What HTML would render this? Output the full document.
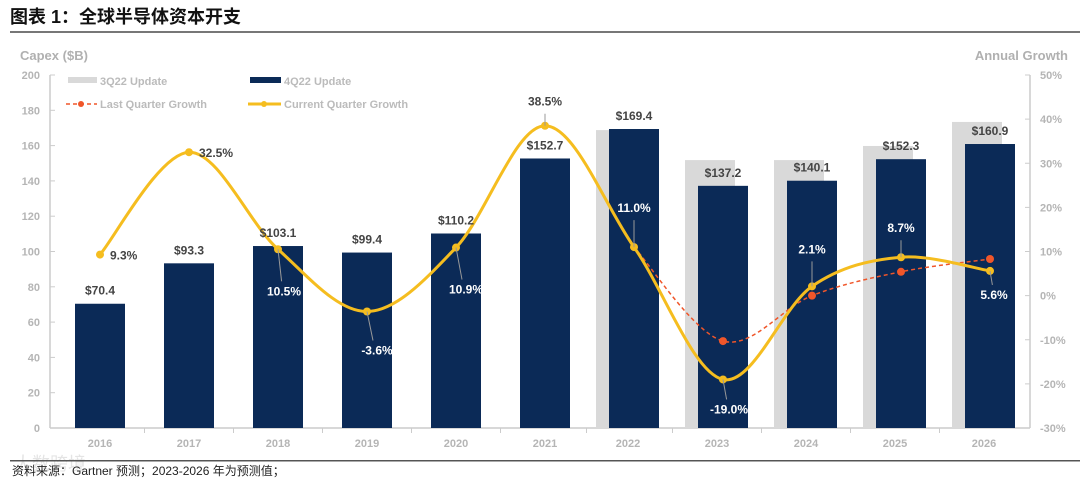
<!DOCTYPE html>
<html><head><meta charset="utf-8">
<style>
body{margin:0;background:#fff;width:1080px;height:482px;overflow:hidden;font-family:"Liberation Sans","Noto Sans CJK SC",sans-serif;}
svg text{font-family:"Liberation Sans","Noto Sans CJK SC",sans-serif;}
</style></head><body>
<svg id="chart" width="1080" height="482" xmlns="http://www.w3.org/2000/svg">
<text x="10" y="23" font-size="18" font-weight="bold" fill="#111">图表 1：全球半导体资本开支</text>
<rect x="10" y="31" width="1070" height="2" fill="#777"/>
<text x="20" y="60" font-size="13" font-weight="bold" fill="#b0b0b0">Capex ($B)</text>
<text x="1068" y="60" font-size="13" font-weight="bold" fill="#b0b0b0" text-anchor="end">Annual Growth</text>
<g id="legend">
<rect x="68" y="77" width="29" height="6" fill="#d9d9d9"/>
<text x="100" y="85" font-size="11" font-weight="bold" fill="#bbb">3Q22 Update</text>
<rect x="250" y="77" width="31" height="6" fill="#0b2a57"/>
<text x="284" y="85" font-size="11" font-weight="bold" fill="#bbb">4Q22 Update</text>
<line x1="66" y1="104" x2="97" y2="104" stroke="#f0562a" stroke-width="1.5" stroke-dasharray="4,3"/>
<circle cx="81" cy="104" r="3" fill="#f0562a"/>
<text x="100" y="108" font-size="11" font-weight="bold" fill="#bbb">Last Quarter Growth</text>
<line x1="248" y1="104" x2="281" y2="104" stroke="#f5bd1f" stroke-width="3"/>
<circle cx="264" cy="104" r="3" fill="#f5bd1f"/>
<text x="284" y="108" font-size="11" font-weight="bold" fill="#bbb">Current Quarter Growth</text>
</g>
<g id="axes"></g>
<g id="bars"></g>
<g id="lines"></g>
<g id="labels"></g>
<text x="14" y="470" font-size="18" fill="#e4e4e4">大数跨境</text>
<rect x="10" y="460" width="1070" height="1.5" fill="#555"/>
<text x="12" y="475" font-size="12" fill="#222">资料来源：Gartner 预测；2023-2026 年为预测值；</text>
</svg>
<script>
const years=['2016','2017','2018','2019','2020','2021','2022','2023','2024','2025','2026'];
const capex4Q=[70.4,93.3,103.1,99.4,110.2,152.7,169.4,137.2,140.1,152.3,160.9];
const capex3Q=[70.4,93.3,103.1,99.4,110.2,152.7,168.8,151.8,151.8,159.8,173.4];
const growthCur=[9.3,32.5,10.5,-3.6,10.9,38.5,11.0,-19.0,2.1,8.7,5.6];
const growthLastIdx=[6,7,8,9,10];
const growthLast=[11.0,-10.3,0.0,5.4,8.3];
const leftTicks=[0,20,40,60,80,100,120,140,160,180,200];
const rightTicks=[-30,-20,-10,0,10,20,30,40,50];
const NS='http://www.w3.org/2000/svg';
const X0=50,X1=1030,Y0=428,Y1=75;
const xC=i=>100+89*i;
const xCat=i=>xC(i)-(i>=6?6:0);
const yL=v=>Y0-(v/200)*(Y0-Y1);
const yR=v=>Y0-((v+30)/80)*(Y0-Y1);
function el(t,a,p){const e=document.createElementNS(NS,t);for(const k in a)e.setAttribute(k,a[k]);p.appendChild(e);return e;}
const axes=document.getElementById('axes'),bars=document.getElementById('bars'),lines=document.getElementById('lines'),labels=document.getElementById('labels');
let e;
e=el('line',{x1:X0,y1:Y1,x2:X0,y2:Y0,stroke:'#ccc','stroke-width':1.5},axes);

e=el('line',{x1:X1,y1:Y1,x2:X1,y2:Y0,stroke:'#ccc','stroke-width':1.5},axes);

e=el('line',{x1:X0,y1:Y0,x2:X1,y2:Y0,stroke:'#ccc','stroke-width':1.5},axes);

leftTicks.forEach(v=>{const y=yL(v);el('line',{x1:X0,y1:y,x2:X0+5,y2:y,stroke:'#ccc'},axes);
 e=el('text',{x:X0-10,y:y+4,'font-size':11,'font-weight':'bold',fill:'#b5b5b5','text-anchor':'end'},axes);e.textContent=v;
 });
rightTicks.forEach(v=>{const y=yR(v);el('line',{x1:X1-5,y1:y,x2:X1,y2:y,stroke:'#ccc'},axes);
 e=el('text',{x:X1+10,y:y+4,'font-size':11,'font-weight':'bold',fill:'#b5b5b5'},axes);e.textContent=v+'%';
 });
years.forEach((yr,i)=>{const x=xC(i);
 if(i<years.length-1){const tx=(xCat(i)+xCat(i+1))/2;el('line',{x1:tx,y1:Y0,x2:tx,y2:Y0+5,stroke:'#ccc'},axes);}
 e=el('text',{x:xCat(i),y:Y0+19,'font-size':11,'font-weight':'bold',fill:'#b5b5b5','text-anchor':'middle'},axes);e.textContent=yr;
 
 if(i>=6){e=el('rect',{x:x-38,y:yL(capex3Q[i]),width:50,height:Y0-yL(capex3Q[i]),fill:'#d9d9d9'},bars);
  }
 e=el('rect',{x:x-25,y:yL(capex4Q[i]),width:50,height:Y0-yL(capex4Q[i]),fill:'#0b2a57'},bars);
 
 e=el('text',{x:x,y:yL(capex4Q[i])-9,'font-size':12,'font-weight':'bold',fill:'#444','text-anchor':'middle'},labels);e.textContent='$'+capex4Q[i].toFixed(1);
 
});
function smooth(pts){let d='M'+pts[0][0]+','+pts[0][1];
 for(let i=0;i<pts.length-1;i++){const p0=pts[Math.max(0,i-1)],p1=pts[i],p2=pts[i+1],p3=pts[Math.min(pts.length-1,i+2)];
  const c1=[p1[0]+(p2[0]-p0[0])/6,p1[1]+(p2[1]-p0[1])/6],c2=[p2[0]-(p3[0]-p1[0])/6,p2[1]-(p3[1]-p1[1])/6];
  d+=' C'+c1+' '+c2+' '+p2;}return d;}
const lastPts=growthLast.map((v,k)=>[xC(growthLastIdx[k]),yR(v)]);
e=el('path',{d:smooth(lastPts),fill:'none',stroke:'#f0562a','stroke-width':1.5,'stroke-dasharray':'4,3'},lines);

lastPts.slice(1).forEach(p=>{e=el('circle',{cx:p[0],cy:p[1],r:4,fill:'#f0562a'},lines);
 });
const curPts=growthCur.map((v,i)=>[xC(i),yR(v)]);
e=el('path',{d:smooth(curPts),fill:'none',stroke:'#f5bd1f','stroke-width':3},lines);

curPts.forEach(p=>{e=el('circle',{cx:p[0],cy:p[1],r:4,fill:'#f5bd1f'},lines);
 });
const lp=[[10,5,'start','#444',0],[10,5,'start','#444',0],[6,46,'middle','#fff',1],[10,43,'middle','#fff',1],[10,46,'middle','#fff',1],
 [0,-20,'middle','#444',1],[0,-35,'middle','#fff',1],[6,34,'middle','#fff',1],[0,-33,'middle','#fff',1],[0,-25,'middle','#fff',1],[4,28,'middle','#fff',1]];
growthCur.forEach((v,i)=>{const p=curPts[i],o=lp[i];
 if(o[4]){el('line',{x1:p[0],y1:p[1],x2:p[0]+o[0]*0.6,y2:p[1]+(o[1]>0?o[1]-14:o[1]+8),stroke:'#999','stroke-width':1},labels);}
 e=el('text',{x:p[0]+o[0],y:p[1]+o[1],'font-size':12,'font-weight':'bold',fill:o[3],'text-anchor':o[2]},labels);e.textContent=v.toFixed(1)+'%';
 });
</script>
</body></html>
